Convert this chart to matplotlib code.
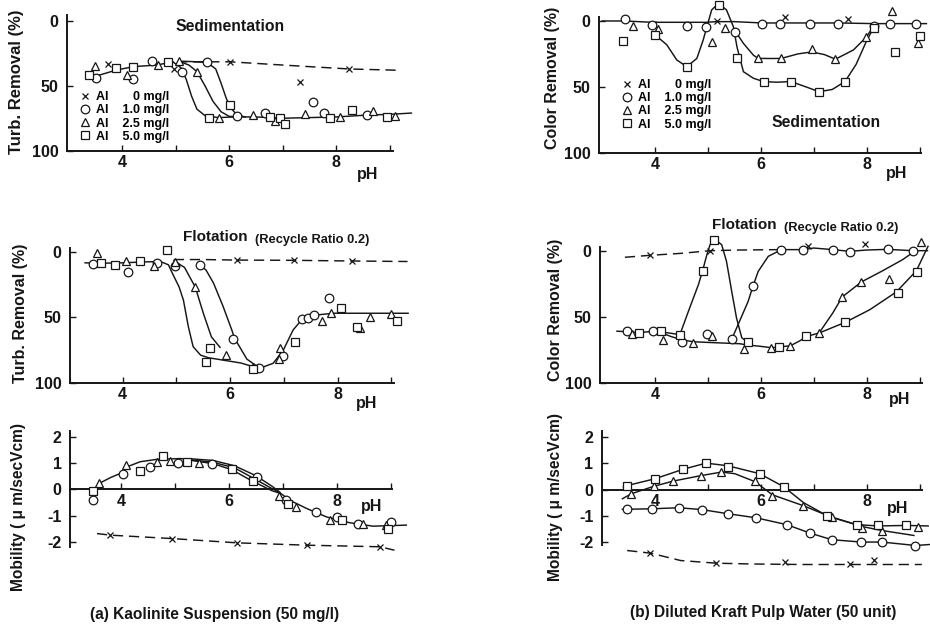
import matplotlib
matplotlib.use('Agg')
import matplotlib.pyplot as plt
from matplotlib.lines import Line2D

plt.rcParams['font.family'] = ['Liberation Sans', 'DejaVu Sans']
plt.rcParams['font.weight'] = 'bold'
plt.rcParams['axes.unicode_minus'] = False
INK = '#161616'

# ---------------- data: (a) kaolinite, sedimentation, turbidity removal ----------------
a_sed_x0_x = [3.75, 4.98, 6.02, 7.33, 8.23]
a_sed_x0_y = [33.4, 37.3, 31.4, 46.8, 37.0]
a_sed_x0_line_x = [5.03, 6.02, 7.0, 8.23, 9.15]
a_sed_x0_line_y = [31.5, 31.5, 34, 37, 38]
a_sed_c_x = [3.51, 4.21, 4.56, 5.12, 5.59, 6.14, 6.67, 7.57, 7.77, 8.58]
a_sed_c_y = [44, 44.7, 30.6, 39, 32, 73.3, 70.7, 62.7, 71.2, 72.8]
a_sed_t_x = [3.5, 4.09, 4.67, 5.06, 5.4, 5.82, 6.44, 6.85, 7.41, 8.07, 8.69, 9.09]
a_sed_t_y = [34.7, 41.6, 34.2, 30.8, 39, 75, 72.5, 76.9, 71.7, 74.3, 69.4, 73.3]
a_sed_s_x = [3.38, 3.89, 4.21, 4.86, 5.62, 6.01, 6.76, 6.95, 7.05, 7.88, 8.3, 8.95]
a_sed_s_y = [41.9, 36.5, 35.2, 31.9, 75, 64.8, 73.8, 75.1, 79.7, 75, 68.6, 73.8]
a_sed_base_x = [3.35, 3.6, 3.9, 4.22, 4.65, 4.95]
a_sed_base_y = [42.4, 41.5, 37.8, 35.2, 34, 31.5]
a_sed_s_curve_x = [4.95, 5.1, 5.2, 5.3, 5.4, 5.55, 5.8, 6.1]
a_sed_s_curve_y = [31.5, 36, 45, 58, 68, 73, 74.5, 74]
a_sed_t_curve_x = [5.06, 5.25, 5.4, 5.55, 5.7, 5.85, 6.0, 6.15]
a_sed_t_curve_y = [31, 34, 39, 50, 62, 70, 73.5, 74]
a_sed_c_curve_x = [5.06, 5.3, 5.59, 5.75, 5.85, 5.95, 6.05, 6.15, 6.3]
a_sed_c_curve_y = [31, 31.3, 32, 37, 48, 60, 68, 72.5, 74]
a_sed_flat_x = [6.1, 6.5, 7.0, 7.5, 8.0, 8.6, 9.0, 9.4]
a_sed_flat_y = [74, 74, 75, 74.5, 74, 72.5, 72, 71]

# ---------------- (b) pulp water, sedimentation, colour removal ----------------
b_sed_x0_x = [3.97, 5.17, 6.46, 7.65]
b_sed_x0_y = [2.3, -0.3, -2.8, -1.5]
b_sed_zero_x = [3.0, 3.43, 3.94, 4.6, 4.96, 5.17, 5.5, 6.02, 6.37, 6.92, 7.46, 8.14, 8.44, 8.94, 9.13]
b_sed_zero_y = [0, 0, 1, 1, 1, 0.5, 0.5, 1.5, 1.5, 1.5, 1.5, 2, 2, 2, 2]
b_sed_c_x = [3.43, 3.94, 4.6, 4.96, 5.52, 6.02, 6.37, 6.92, 7.46, 8.14, 8.44, 8.94]
b_sed_c_y = [-1.5, 3, 3.5, 4.3, 8.1, 2.3, 2.3, 2.3, 2.3, 3.5, 2.5, 2.5]
b_sed_t_x = [3.58, 4.06, 5.07, 5.32, 5.95, 6.39, 6.96, 7.41, 7.99, 8.47, 8.98]
b_sed_t_y = [3.8, 6.3, 15.7, 5.6, 28.4, 28.4, 21.5, 29, 12.4, -7.8, 16.5]
b_sed_s_x = [3.4, 4.0, 4.6, 5.2, 5.54, 6.05, 6.57, 7.1, 7.59, 8.13, 8.54, 9.0]
b_sed_s_y = [15, 10.6, 34.7, -12.2, 28.4, 46, 46, 53.7, 46, 5.6, 23.3, 11.4]
b_sed_s_curve_x = [4.0, 4.22, 4.41, 4.6, 4.79, 4.91, 4.98, 5.07, 5.2, 5.35, 5.48, 5.55,
                   5.67, 5.86, 6.05, 6.3, 6.57, 6.85, 7.1, 7.35, 7.59, 7.8, 8.0, 8.16]
b_sed_s_curve_y = [10.6, 18, 29.6, 34.7, 28.4, 14.4, 4.3, -8.4, -13.4, -8.4, 4.3, 20,
                   38.5, 43.5, 46, 46.5, 46, 50, 53.7, 52, 46, 33, 15, 3]
b_sed_t_curve_x = [5.52, 5.67, 5.86, 5.95, 6.2, 6.39, 6.7, 6.96, 7.2, 7.41, 7.75, 7.99, 8.13]
b_sed_t_curve_y = [8, 17, 26, 28.4, 28.5, 28.4, 25, 23.5, 25.5, 29, 22, 12.4, 4]

# ---------------- (a) flotation, turbidity removal ----------------
a_flo_x0_x = [6.12, 7.19, 8.26]
a_flo_x0_y = [6.4, 6.4, 7.1]
a_flo_x0_line_x = [4.95, 5.5, 6.12, 7.19, 8.26, 9.3]
a_flo_x0_line_y = [6, 6, 6.4, 6.6, 7.1, 7.5]
a_flo_c_x = [3.45, 4.1, 4.64, 4.97, 5.44, 6.06, 6.54, 6.98, 7.33, 7.45, 7.55, 7.83]
a_flo_c_y = [9.4, 15.3, 8.9, 10.9, 10.2, 66.9, 88.5, 79.4, 51.6, 50.3, 48.3, 35.6]
a_flo_t_x = [3.52, 4.06, 4.59, 4.97, 5.35, 5.92, 6.43, 6.9, 6.93, 7.7, 7.87, 8.41, 8.6, 9.0]
a_flo_t_y = [0.8, 6.9, 10.9, 7.6, 27.2, 78.9, 87.8, 82.1, 73.3, 52.6, 47, 58.5, 50.1, 47.6]
a_flo_s_x = [3.59, 3.86, 4.32, 4.82, 5.55, 5.62, 6.43, 7.2, 8.07, 8.35, 9.1]
a_flo_s_y = [8.4, 10.2, 6.9, -1.3, 84, 73.7, 89.8, 68.7, 43.2, 57.7, 52.7]
a_flo_base_x = [3.3, 3.6, 4.0, 4.4, 4.7]
a_flo_base_y = [8.5, 8.8, 8.5, 7.8, 7.5]
a_flo_s_curve_x = [4.7, 4.85, 4.94, 5.05, 5.13, 5.22, 5.31, 5.45, 5.6, 5.9, 6.2, 6.43]
a_flo_s_curve_y = [7.5, 10, 17.8, 27, 37, 57, 72.5, 79, 81, 83, 85, 87.8]
a_flo_t_curve_x = [4.95, 5.15, 5.35, 5.5, 5.65, 5.81]
a_flo_t_curve_y = [7, 12, 27, 47, 65, 73]
a_flo_c_curve_x = [5.44, 5.55, 5.69, 5.87, 6.03, 6.08, 6.31, 6.5]
a_flo_c_curve_y = [10.2, 14, 24, 42, 59.8, 66, 82, 87.5]
a_flo_rec_x = [6.43, 6.55, 6.8, 6.99, 7.17, 7.33, 7.61, 7.92, 8.54, 9.31]
a_flo_rec_y = [87.8, 89, 85.2, 75, 59.8, 52, 48.3, 47, 47, 47]

# ---------------- (b) flotation, colour removal ----------------
b_flo_x0_x = [3.91, 5.04, 6.89, 7.96]
b_flo_x0_y = [3.5, 0, -3.3, -5.1]
b_flo_x0_line_x = [3.43, 3.91, 4.5, 5.04, 5.6, 6.36]
b_flo_x0_line_y = [5, 3.5, 2, 0, -0.5, -0.8]
b_flo_c_x = [3.47, 3.97, 4.5, 4.99, 5.45, 5.85, 6.39, 6.79, 7.36, 7.68, 8.4, 8.87]
b_flo_c_y = [61, 60.6, 69.5, 63.1, 66.9, 27, -0.8, -0.8, -0.8, 1, -1.5, 0]
b_flo_t_x = [3.57, 4.15, 4.72, 5.08, 5.68, 6.2, 6.56, 7.1, 7.54, 7.9, 8.42, 9.03]
b_flo_t_y = [63.3, 67.4, 69.9, 64.5, 74.5, 73.7, 72, 62.4, 35.1, 23.7, 21.2, -6.3]
b_flo_s_x = [3.69, 4.11, 4.47, 4.91, 5.12, 5.76, 6.35, 6.86, 7.6, 8.59, 8.96]
b_flo_s_y = [62.4, 60.6, 63.6, 15.7, -7.8, 69.5, 73, 64.9, 54.3, 32, 16.1]
b_flo_upper_x = [3.28, 3.5, 3.7, 4.0, 4.2, 4.47]
b_flo_upper_y = [61, 61.5, 62, 61, 62, 63.6]
b_flo_peak_x = [4.47, 4.63, 4.82, 4.9, 4.98, 5.04, 5.1, 5.18, 5.26, 5.35, 5.45, 5.54, 5.64, 5.76]
b_flo_peak_y = [63.6, 46, 25.7, 15, 3, -4.5, -7.6, -7, -4.5, 8, 31, 51, 66, 69.5]
b_flo_lower_x = [4.1, 4.3, 4.5, 4.72, 5.0, 5.3, 5.6, 5.76, 6.0, 6.2, 6.35, 6.56, 6.75, 6.86, 7.1]
b_flo_lower_y = [62, 65, 67.5, 69, 69.5, 70, 70.5, 71.5, 72.5, 73.5, 73, 72, 68, 65, 62.4]
b_flo_c_curve_x = [5.45, 5.57, 5.76, 5.85, 5.95, 6.14, 6.39]
b_flo_c_curve_y = [67, 56, 38.4, 27, 15.7, 4.3, -0.8]
b_flo_flat_x = [6.39, 6.79, 7.0, 7.36, 7.68, 8.0, 8.4, 8.87, 9.15]
b_flo_flat_y = [-0.8, -0.8, -2, -0.8, 0.5, -0.5, -1, 0, 0]
b_flo_t_curve_x = [7.1, 7.36, 7.54, 7.9, 8.28, 8.68, 8.87]
b_flo_t_curve_y = [62.4, 47.2, 35, 23.7, 15.7, 6.8, 1.5]
b_flo_s_curve_x = [7.1, 7.6, 8.06, 8.56, 8.94, 9.16]
b_flo_s_curve_y = [62.4, 54.2, 44.7, 31.3, 15.2, -3.3]

# ---------------- (a) mobility ----------------
a_mob_x0_x = [3.8, 4.95, 6.14, 7.44, 8.8]
a_mob_x0_y = [-1.73, -1.86, -2.02, -2.11, -2.17]
a_mob_x0_line_x = [3.55, 3.8, 4.95, 6.14, 7.44, 8.8, 9.07]
a_mob_x0_line_y = [-1.67, -1.73, -1.86, -2.02, -2.11, -2.17, -2.3]
a_mob_c_x = [3.48, 4.04, 4.54, 5.06, 5.68, 6.51, 7.06, 7.62, 8.0, 8.4, 9.01]
a_mob_c_y = [-0.38, 0.58, 0.86, 1.02, 0.96, 0.48, -0.41, -0.87, -1.06, -1.29, -1.23]
a_mob_t_x = [3.58, 4.09, 4.66, 4.9, 5.45, 6.93, 7.24, 7.87, 8.49, 8.92]
a_mob_t_y = [0.23, 0.92, 1.05, 1.07, 1.01, -0.25, -0.66, -1.16, -1.29, -1.35]
a_mob_s_x = [3.48, 4.35, 4.77, 5.22, 6.05, 6.44, 7.1, 8.09, 8.95]
a_mob_s_y = [-0.06, 0.69, 1.26, 1.05, 0.76, 0.33, -0.55, -1.16, -1.48]
a_mob_left_x = [3.61, 3.8, 4.01]
a_mob_left_y = [0.25, 0.45, 0.63]
a_mob_main_x = [4.1, 4.35, 4.66, 5.09, 5.3]
a_mob_main_y = [0.85, 1.05, 1.14, 1.17, 1.15]
a_mob_br1_x = [5.3, 5.7, 6.1, 6.5, 6.8, 6.94]
a_mob_br1_y = [1.16, 1.1, 0.9, 0.52, 0.12, -0.1]
a_mob_br2_x = [5.3, 5.7, 6.1, 6.45, 6.8, 6.94]
a_mob_br2_y = [1.12, 1.03, 0.82, 0.43, 0.03, -0.12]
a_mob_br3_x = [5.3, 5.7, 6.05, 6.42, 6.8, 6.94]
a_mob_br3_y = [1.1, 0.98, 0.75, 0.33, -0.05, -0.14]
a_mob_tail_x = [6.94, 7.13, 7.44, 7.81, 8.24, 8.67, 9.29]
a_mob_tail_y = [-0.12, -0.41, -0.72, -1.04, -1.26, -1.39, -1.35]

# ---------------- (b) mobility ----------------
b_mob_x0_x = [3.91, 5.15, 6.45, 7.68, 8.12]
b_mob_x0_y = [-2.41, -2.79, -2.75, -2.84, -2.66]
b_mob_x0_line_x = [3.47, 3.91, 4.48, 5.15, 5.8, 6.74, 7.68, 9.03]
b_mob_x0_line_y = [-2.31, -2.41, -2.69, -2.79, -2.82, -2.84, -2.84, -2.84]
b_mob_c_x = [3.47, 3.94, 4.44, 4.88, 5.38, 5.9, 6.48, 6.92, 7.33, 7.89, 8.28, 8.91]
b_mob_c_y = [-0.73, -0.73, -0.69, -0.76, -0.92, -1.07, -1.33, -1.65, -1.9, -1.99, -1.99, -2.14]
b_mob_c_curve_x = [3.38, 3.94, 4.44, 4.88, 5.38, 5.9, 6.48, 6.92, 7.33, 7.89, 8.28, 8.91, 9.2]
b_mob_c_curve_y = [-0.75, -0.73, -0.69, -0.76, -0.92, -1.07, -1.33, -1.65, -1.9, -1.99, -1.99, -2.12, -2.08]
b_mob_s_x = [3.47, 4.0, 4.53, 4.96, 5.37, 5.97, 6.42, 7.25, 7.8, 8.21, 8.74]
b_mob_s_y = [0.15, 0.41, 0.77, 1.0, 0.87, 0.59, 0.11, -1.0, -1.36, -1.36, -1.33]
b_mob_t_x = [3.55, 3.97, 4.34, 4.87, 5.25, 5.88, 6.21, 6.79, 7.33, 7.9, 8.27, 8.96]
b_mob_t_y = [-0.16, 0.15, 0.32, 0.53, 0.66, 0.32, -0.25, -0.61, -1.05, -1.45, -1.58, -1.43]
b_mob_s_curve_x = [3.4, 3.47, 4.0, 4.53, 4.96, 5.37, 5.97, 6.42, 6.8, 7.25, 7.8, 8.21, 8.74, 9.15]
b_mob_s_curve_y = [0.1, 0.15, 0.41, 0.77, 1.0, 0.9, 0.6, 0.11, -0.5, -1.0, -1.33, -1.38, -1.36, -1.38]
b_mob_t_curve_x = [3.38, 3.55, 3.97, 4.34, 4.87, 5.25, 5.5, 5.88, 6.21, 6.79, 7.33, 7.9, 8.27, 8.88]
b_mob_t_curve_y = [-0.35, -0.16, 0.12, 0.32, 0.53, 0.66, 0.6, 0.3, -0.2, -0.61, -1.05, -1.4, -1.55, -1.74]

legend_labels = ['Al       0 mg/l', 'Al    1.0 mg/l', 'Al    2.5 mg/l', 'Al    5.0 mg/l']

# ---------------- styles ----------------
MK = {'x': dict(marker='x', ms=4, mew=0.9),
      'o': dict(marker='o', ms=6.2, mew=0.9),
      '^': dict(marker='^', ms=5.3, mew=0.9),
      's': dict(marker='s', ms=6.2, mew=0.9)}
TICK_FS = 11.5
LABEL_FS = 11.5

fig = plt.figure(figsize=(9.3, 6.26), dpi=100)


def make_ax(rect, xlim, ylim, xspan, yspan, yticks, zero_axis=False):
    ax = fig.add_axes(rect)
    ax.set_xlim(*xlim)
    ax.set_ylim(*ylim)
    ax.patch.set_alpha(0)
    for s in ['top', 'right']:
        ax.spines[s].set_visible(False)
    for s in ['left', 'bottom']:
        ax.spines[s].set_linewidth(1.4)
        ax.spines[s].set_color(INK)
    ax.spines['left'].set_bounds(*yspan)
    ax.spines['bottom'].set_bounds(*xspan)
    if zero_axis:
        ax.spines['bottom'].set_position(('data', 0))
    ax.set_xticks([4, 6, 8])
    ax.set_xticks([5, 7, 9], minor=True)
    ax.set_yticks(yticks)
    ax.tick_params(which='both', direction='in', length=4, width=1, colors=INK, labelsize=TICK_FS)
    ax.tick_params(axis='y', pad=6)
    ax.tick_params(axis='x', pad=3)
    return ax


def pts(ax, x, y, m):
    ax.plot(x, y, ls='none', mfc='white', mec=INK, color=INK, clip_on=False, zorder=4, **MK[m])


def curve(ax, x, y, dashed=False):
    ln, = ax.plot(x, y, color=INK, lw=1.05, clip_on=False, zorder=2, solid_joinstyle='round')
    if dashed:
        ln.set_dashes([7, 4])


def legend(ax, anchor):
    hs = [Line2D([], [], ls='none', mfc='white', mec=INK, color=INK, **MK[m]) for m in ['x', 'o', '^', 's']]
    ax.legend(hs, legend_labels, loc='upper left', bbox_to_anchor=anchor, bbox_transform=ax.transData,
              frameon=False, borderpad=0, borderaxespad=0, handlelength=0.8, handletextpad=0.5,
              labelspacing=0.1, prop={'weight': 'bold', 'size': 9})


def ph_label(ax, x, dy):
    ax.annotate('pH', xy=(x, 0), xycoords=('data', 'axes fraction'), xytext=(0, dy),
                textcoords='offset pixels', ha='center', va='center', fontsize=11.5, color=INK)


# ---- panel (a) sedimentation ----
ax1 = make_ax([0.0717, 0.7593, 0.3764, 0.2176], (2.97, 9.5), (100, -5), (2.97, 9.06), (100, -4.6), [0, 50, 100])
curve(ax1, a_sed_x0_line_x, a_sed_x0_line_y, dashed=True)
for cx, cy in [(a_sed_base_x, a_sed_base_y), (a_sed_s_curve_x, a_sed_s_curve_y),
               (a_sed_t_curve_x, a_sed_t_curve_y), (a_sed_c_curve_x, a_sed_c_curve_y),
               (a_sed_flat_x, a_sed_flat_y)]:
    curve(ax1, cx, cy)
pts(ax1, a_sed_x0_x, a_sed_x0_y, 'x')
pts(ax1, a_sed_c_x, a_sed_c_y, 'o')
pts(ax1, a_sed_t_x, a_sed_t_y, '^')
pts(ax1, a_sed_s_x, a_sed_s_y, 's')
ax1.text(6.01, 4.6, 'Sedimentation', ha='center', va='center', fontsize=11.3, color=INK)
legend(ax1, (3.22, 54))
ph_label(ax1, 8.58, -24)

# ---- panel (b) sedimentation ----
ax2 = make_ax([0.6441, 0.7561, 0.3731, 0.2209], (2.94, 9.5), (100, -5), (2.94, 9.02), (100, -3), [0, 50, 100])
curve(ax2, b_sed_zero_x, b_sed_zero_y)
curve(ax2, b_sed_s_curve_x, b_sed_s_curve_y)
curve(ax2, b_sed_t_curve_x, b_sed_t_curve_y)
pts(ax2, b_sed_x0_x, b_sed_x0_y, 'x')
pts(ax2, b_sed_c_x, b_sed_c_y, 'o')
pts(ax2, b_sed_t_x, b_sed_t_y, '^')
pts(ax2, b_sed_s_x, b_sed_s_y, 's')
ax2.text(7.23, 76.9, 'Sedimentation', ha='center', va='center', fontsize=11.3, color=INK)
legend(ax2, (3.37, 44))
ph_label(ax2, 8.57, -21)

# ---- panel (a) flotation ----
ax3 = make_ax([0.0753, 0.3887, 0.3745, 0.2197], (3.02, 9.5), (100, -5), (3.02, 9.04), (100, -3), [0, 50, 100])
curve(ax3, a_flo_x0_line_x, a_flo_x0_line_y, dashed=True)
for cx, cy in [(a_flo_base_x, a_flo_base_y), (a_flo_s_curve_x, a_flo_s_curve_y),
               (a_flo_t_curve_x, a_flo_t_curve_y), (a_flo_c_curve_x, a_flo_c_curve_y),
               (a_flo_rec_x, a_flo_rec_y)]:
    curve(ax3, cx, cy)
pts(ax3, a_flo_x0_x, a_flo_x0_y, 'x')
pts(ax3, a_flo_c_x, a_flo_c_y, 'o')
pts(ax3, a_flo_t_x, a_flo_t_y, '^')
pts(ax3, a_flo_s_x, a_flo_s_y, 's')
ax3.text(5.12, -11.2, 'Flotation', ha='left', va='center', fontsize=11, color=INK)
ax3.text(6.46, -9.3, '(Recycle Ratio 0.2)', ha='left', va='center', fontsize=9.3, color=INK)
ph_label(ax3, 8.54, -21)

# ---- panel (b) flotation ----
ax4 = make_ax([0.6452, 0.3887, 0.3720, 0.2214], (2.96, 9.5), (100, -5), (2.96, 9.04), (100, -3), [0, 50, 100])
curve(ax4, b_flo_x0_line_x, b_flo_x0_line_y, dashed=True)
for cx, cy in [(b_flo_upper_x, b_flo_upper_y), (b_flo_peak_x, b_flo_peak_y),
               (b_flo_lower_x, b_flo_lower_y), (b_flo_c_curve_x, b_flo_c_curve_y),
               (b_flo_flat_x, b_flo_flat_y), (b_flo_t_curve_x, b_flo_t_curve_y),
               (b_flo_s_curve_x, b_flo_s_curve_y)]:
    curve(ax4, cx, cy)
pts(ax4, b_flo_x0_x, b_flo_x0_y, 'x')
pts(ax4, b_flo_c_x, b_flo_c_y, 'o')
pts(ax4, b_flo_t_x, b_flo_t_y, '^')
pts(ax4, b_flo_s_x, b_flo_s_y, 's')
ax4.text(5.07, -19.5, 'Flotation', ha='left', va='center', fontsize=11, color=INK)
ax4.text(6.43, -17.2, '(Recycle Ratio 0.2)', ha='left', va='center', fontsize=9.3, color=INK)
ph_label(ax4, 8.63, -17)

# ---- panel (a) mobility ----
ax5 = make_ax([0.0753, 0.1042, 0.3738, 0.2067], (3.05, 9.5), (-2.7, 2.2), (3.05, 9.02), (-2.17, 2.2),
              [-2, -1, 0, 1, 2], zero_axis=True)
curve(ax5, a_mob_x0_line_x, a_mob_x0_line_y, dashed=True)
for cx, cy in [(a_mob_left_x, a_mob_left_y), (a_mob_main_x, a_mob_main_y), (a_mob_br1_x, a_mob_br1_y),
               (a_mob_br2_x, a_mob_br2_y), (a_mob_br3_x, a_mob_br3_y), (a_mob_tail_x, a_mob_tail_y)]:
    curve(ax5, cx, cy)
pts(ax5, a_mob_x0_x, a_mob_x0_y, 'x')
pts(ax5, a_mob_c_x, a_mob_c_y, 'o')
pts(ax5, a_mob_t_x, a_mob_t_y, '^')
pts(ax5, a_mob_s_x, a_mob_s_y, 's')
ax5.text(8.64, -0.64, 'pH', ha='center', va='center', fontsize=11.5, color=INK)

# ---- panel (b) mobility ----
ax6 = make_ax([0.6470, 0.0915, 0.3710, 0.2193], (2.99, 9.5), (-3.0, 2.2), (2.99, 9.04), (-2.1, 2.2),
              [-2, -1, 0, 1, 2], zero_axis=True)
curve(ax6, b_mob_x0_line_x, b_mob_x0_line_y, dashed=True)
for cx, cy in [(b_mob_c_curve_x, b_mob_c_curve_y), (b_mob_s_curve_x, b_mob_s_curve_y),
               (b_mob_t_curve_x, b_mob_t_curve_y)]:
    curve(ax6, cx, cy)
pts(ax6, b_mob_x0_x, b_mob_x0_y, 'x')
pts(ax6, b_mob_c_x, b_mob_c_y, 'o')
pts(ax6, b_mob_t_x, b_mob_t_y, '^')
pts(ax6, b_mob_s_x, b_mob_s_y, 's')
ax6.text(8.57, -0.73, 'pH', ha='center', va='center', fontsize=11.5, color=INK)

# ---- axis titles and captions ----
H = 626.0
W = 930.0
ylabels = [(17, 82, 'Turb. Removal (%)', 12), (552, 78, 'Color Removal (%)', 11.5),
           (21, 313, 'Turb. Removal (%)', 11.5), (555, 310, 'Color Removal (%)', 11.5),
           (18, 507, 'Mobility ( \u03bc m/secVcm)', 11.2), (555, 497, 'Mobility ( \u03bc m/secVcm)', 11.2)]
for px, py, t, fs in ylabels:
    fig.text(px / W, 1 - py / H, t, rotation=90, ha='center', va='center', fontsize=fs, color=INK)
fig.text(215 / W, 1 - 615 / H, '(a) Kaolinite Suspension (50 mg/l)', ha='center', va='center',
         fontsize=11.2, color=INK)
fig.text(763 / W, 1 - 612 / H, '(b) Diluted Kraft Pulp Water (50 unit)', ha='center', va='center',
         fontsize=11.2, color=INK)

fig.savefig('out.png', dpi=100)
